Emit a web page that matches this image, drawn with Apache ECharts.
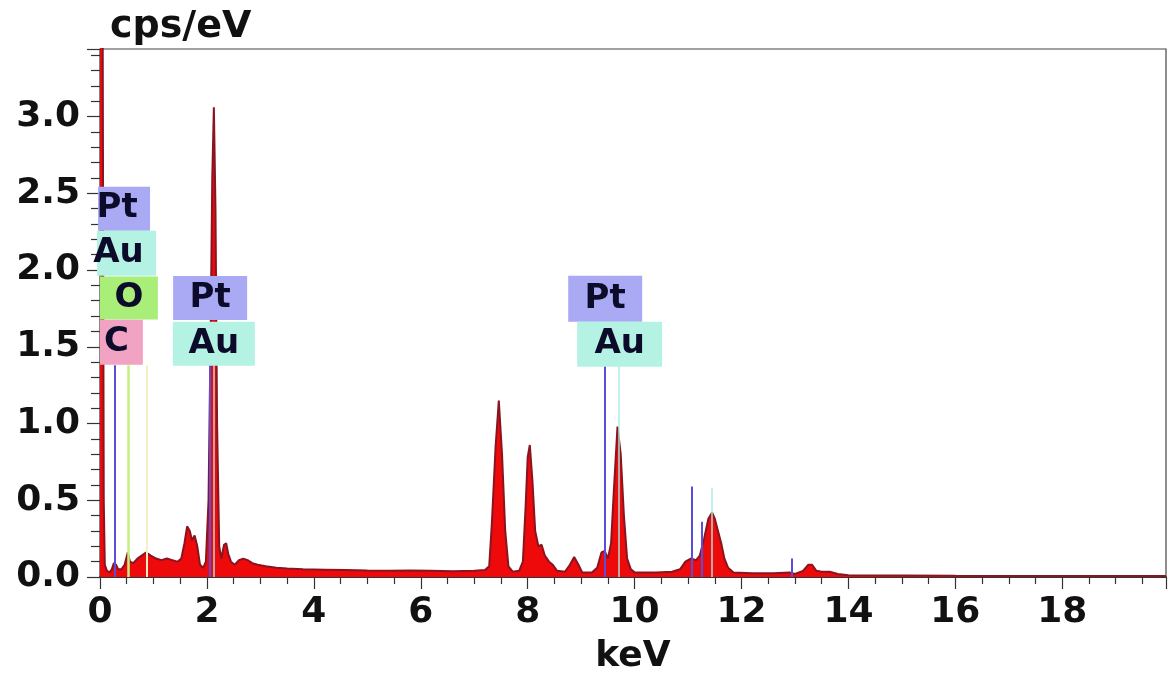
<!DOCTYPE html>
<html>
<head>
<meta charset="utf-8">
<script src="https://cdn.jsdelivr.net/npm/echarts@6/dist/echarts.min.js"></script>
<style>
html,body{margin:0;padding:0;background:#fff;}
#chart{width:1168px;height:673px;}
</style>
</head>
<body>
<div id="chart"></div>
<script>
// Spectrum (keV, cps/eV)
const spectrumKeV = [0.00,0.02,0.05,0.07,0.09,0.13,0.18,0.22,0.26,0.30,0.34,0.40,0.46,0.52,0.56,0.62,0.70,0.78,0.86,0.95,1.05,1.15,1.25,1.35,1.45,1.52,1.58,1.63,1.68,1.72,1.77,1.82,1.87,1.93,1.98,2.03,2.07,2.10,2.13,2.16,2.19,2.23,2.27,2.32,2.36,2.40,2.45,2.52,2.60,2.68,2.76,2.85,2.95,3.1,3.3,3.5,3.8,4.2,4.6,5.0,5.4,5.8,6.2,6.6,7.0,7.2,7.28,7.33,7.40,7.46,7.52,7.58,7.64,7.72,7.84,7.91,7.96,8.00,8.04,8.09,8.14,8.20,8.26,8.32,8.40,8.47,8.55,8.7,8.79,8.87,8.95,9.02,9.2,9.30,9.38,9.44,9.50,9.56,9.61,9.68,9.74,9.80,9.86,9.93,10.0,10.4,10.7,10.85,10.95,11.05,11.15,11.22,11.30,11.38,11.45,11.50,11.56,11.62,11.68,11.75,11.85,12.2,12.6,12.9,13.0,13.15,13.25,13.32,13.40,13.5,13.65,13.8,14.0,15,16,17,18,19,19.94];
const spectrumCps = [3.6,3.6,3.6,0.5,0.08,0.04,0.03,0.05,0.09,0.08,0.05,0.05,0.08,0.16,0.10,0.09,0.12,0.14,0.16,0.14,0.12,0.11,0.12,0.11,0.10,0.12,0.22,0.33,0.30,0.24,0.27,0.20,0.08,0.06,0.10,0.5,1.6,2.6,3.06,2.4,1.0,0.2,0.12,0.21,0.22,0.15,0.10,0.08,0.11,0.12,0.11,0.09,0.08,0.07,0.06,0.055,0.05,0.048,0.045,0.042,0.04,0.042,0.04,0.038,0.04,0.045,0.07,0.35,0.85,1.15,0.80,0.30,0.07,0.035,0.04,0.10,0.45,0.78,0.86,0.62,0.30,0.20,0.21,0.14,0.10,0.08,0.04,0.035,0.08,0.13,0.08,0.03,0.03,0.06,0.16,0.17,0.12,0.22,0.55,0.98,0.80,0.40,0.12,0.05,0.03,0.03,0.035,0.05,0.10,0.12,0.11,0.14,0.25,0.38,0.42,0.38,0.30,0.22,0.12,0.06,0.03,0.025,0.025,0.03,0.02,0.04,0.08,0.08,0.04,0.035,0.035,0.02,0.012,0.01,0.008,0.007,0.007,0.006,0.006];

// Element marker lines
const ptLineKeV = [0.28, 2.05, 9.44, 11.07, 11.25, 12.94];
const ptLineTop = [1.38, 1.38, 1.38, 0.59, 0.36, 0.12];
const auLineKeV = [2.12, 9.71, 11.44];
const auLineTop = [1.38, 1.38, 0.58];
const oLineKeV = [0.525];
const oLineTop = [1.38];
const faintLineKeV = [0.88];
const faintLineTop = [1.38];

// Element labels
const labelText = ['Pt','Au','O','C','Pt','Au','Pt','Au'];
const labelKeV  = [0.45, 0.496, 0.54, 0.40, 2.06, 2.13, 9.45, 9.72];
const labelCps  = [2.40, 2.11, 1.817, 1.53, 1.817, 1.52, 1.813, 1.517];

// Axis ticks
const xTickStep = 2;
const yTickStep = 0.5;

const FONT = 'DejaVu Sans';
const boxColor = {Pt:'#a9a9f4', Au:'#b4f2e4', O:'#aaee7a', C:'#f2a2c2'};
const boxStyle = [
  {w:52,h:44,dx:-7},{w:59,h:45,dx:-8},{w:58,h:43,dx:0},{w:43,h:45,dx:-5},
  {w:74,h:44,dx:0},{w:82,h:44,dx:0},{w:74,h:46,dx:0},{w:85,h:45,dx:0}
];

const chart = echarts.init(document.getElementById('chart'), null, {renderer:'canvas'});

function vlines(keys, tops){
  return keys.map((x,i)=>[{coord:[x,0]},{coord:[x,tops[i]]}]);
}
function lineSeries(name, keys, tops, color, width, opacity){
  return {
    name, type:'line', data:[], silent:true, z:5,
    markLine:{
      silent:true, symbol:['none','none'], animation:false,
      label:{show:false},
      lineStyle:{color, width, type:'solid', opacity},
      emphasis:{disabled:true},
      data: vlines(keys, tops)
    }
  };
}

const option = {
  animation:false,
  backgroundColor:'#fff',
  grid:{left:100, right:2, top:49, bottom:96, containLabel:false, outerBoundsMode:'none',
    show:true, borderColor:'#444', borderWidth:1.2, backgroundColor:'transparent'},
  xAxis:{
    type:'value', min:0, max:19.94, interval:xTickStep,
    name:'keV', nameLocation:'middle', nameGap:62,
    nameTextStyle:{fontFamily:FONT, fontWeight:'bold', fontSize:36, color:'#111'},
    axisLine:{show:true, onZero:false, lineStyle:{color:'#111', width:1.5}},
    axisTick:{show:true, length:12, lineStyle:{color:'#333', width:1.2}},
    minorTick:{show:true, splitNumber:4, length:7, lineStyle:{color:'#333', width:1.2}},
    splitLine:{show:false},
    axisLabel:{fontFamily:FONT, fontWeight:'bold', fontSize:36, color:'#111', margin:18, showMaxLabel:false}
  },
  yAxis:{
    type:'value', min:0, max:3.44, interval:yTickStep,
    name:'cps/eV', nameLocation:'end', nameGap:3,
    nameTextStyle:{fontFamily:FONT, fontWeight:'bold', fontSize:38, color:'#111', align:'left', verticalAlign:'bottom', padding:[0,0,0,10]},
    axisLine:{show:true, lineStyle:{color:'#111', width:1.2}},
    axisTick:{show:true, length:13, lineStyle:{color:'#333', width:1.2}},
    minorTick:{show:true, splitNumber:5, length:9, lineStyle:{color:'#333', width:1.2}},
    splitLine:{show:false},
    axisLabel:{fontFamily:FONT, fontWeight:'bold', fontSize:36, color:'#111', margin:20, showMaxLabel:false,
      formatter:(v)=>v.toFixed(1)}
  },
  series:[
    {
      name:'spectrum', type:'line', z:3,
      data: spectrumKeV.map((x,i)=>[x, spectrumCps[i]]),
      symbol:'none', clip:true, silent:true,
      lineStyle:{color:'#8a1420', width:2},
      areaStyle:{color:'#ee0a0a', opacity:1, origin:0}
    },
    lineSeries('faint', faintLineKeV, faintLineTop, '#f4f0c4', 2, 1),
    lineSeries('O', oLineKeV, oLineTop, '#c4f07e', 2.5, 1),
    lineSeries('Au', auLineKeV, auLineTop, '#a8ece4', 2, 0.7),
    lineSeries('Pt', ptLineKeV, ptLineTop, '#5a4ed8', 2, 1),
    {
      name:'labels', type:'scatter', z:10, silent:true, clip:false,
      data: labelText.map((t,i)=>({
        value:[labelKeV[i], labelCps[i]],
        symbol:'rect',
        symbolSize:[boxStyle[i].w, boxStyle[i].h],
        itemStyle:{color:boxColor[t], opacity:1},
        label:{show:true, position:'inside', formatter:t, offset:[boxStyle[i].dx,0],
          fontFamily:FONT, fontWeight:'bold', fontSize:34, color:'#0c0c2a'}
      }))
    }
  ]
};
chart.setOption(option);
</script>
</body>
</html>
